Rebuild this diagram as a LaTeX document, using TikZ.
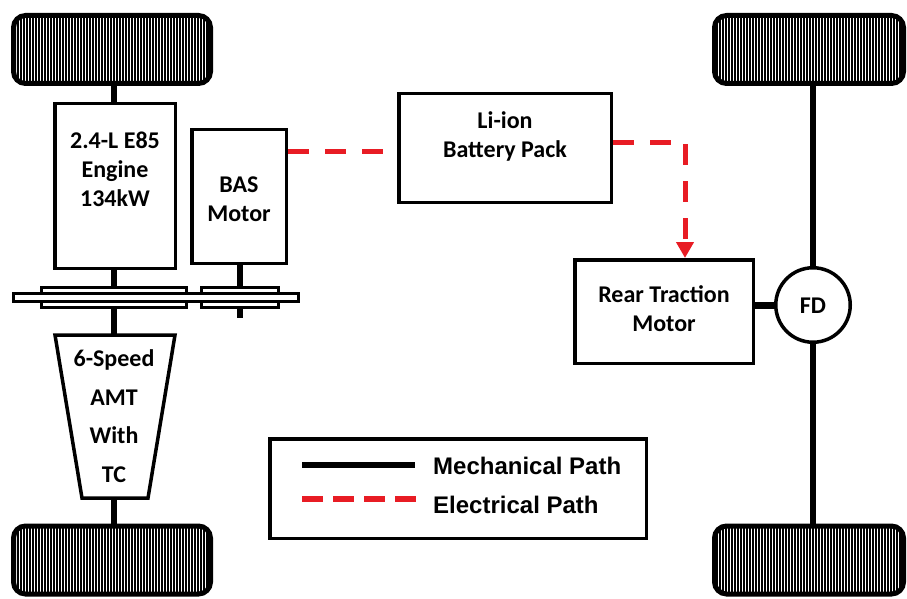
\documentclass[tikz,border=0pt]{standalone}
\usepackage{fontspec}
\setmainfont{Carlito}
\newfontfamily\legendfont{Liberation Sans}
\usetikzlibrary{arrows.meta,patterns.meta}
\definecolor{epath}{RGB}{232,28,36}
\tikzset{
  box/.style={draw,line width=3.5pt,fill=white,inner sep=0pt},
  lbl/.style={inner sep=0pt,font=\fontsize{24}{29}\selectfont\bfseries,align=center},
  shaft/.style={line width=6.5pt},
  gearbox/.style={draw,line width=3pt,fill=white,inner sep=0pt},
  elec/.style={draw=epath,line width=5pt,dash pattern=on 21pt off 16pt},
  wheel/.style={draw,line width=5pt,rounded corners=12pt,inner sep=0pt,minimum height=68pt,
    pattern={Lines[angle=90,distance=3pt,line width=1.8pt]},pattern color=black},
}
\begin{document}
\begin{tikzpicture}[x=1pt,y=-1pt]
\useasboundingbox[fill=white] (0,0) rectangle (907,599);
% wheels
\node[wheel,minimum width=197pt] (wtl) at (112,49.5) {};
\node[wheel,minimum width=197pt] (wbl) at (112,560) {};
\node[wheel,minimum width=189pt] (wtr) at (809,49.5) {};
\node[wheel,minimum width=189pt] (wbr) at (809,560) {};
% engine and BAS motor
\node[box,minimum width=120.5pt,minimum height=164.5pt] (engine) at (115,186) {};
\node[lbl] (etxt) at (115,169) {2.4-L E85\\Engine\\134kW};
\node[box,minimum width=94.5pt,minimum height=133.5pt] (bas) at (239,196.5) {};
\node[lbl] (btxt) at (239,199) {BAS\\Motor};
% gears and bar
\node[gearbox,minimum width=145pt,minimum height=20pt] (egear) at (114,297.5) {};
\node[gearbox,minimum width=77pt,minimum height=20pt] (bgear) at (240,297.5) {};
\node[gearbox,minimum width=285pt,minimum height=8pt] (bar) at (156,297.5) {};
% transmission
\draw[line width=3.5pt,fill=white] (55,335) -- (175,335) -- (148,498) -- (82,498) -- cycle;
\coordinate (ttop) at (114,335);
\coordinate (tbot) at (114,498);
\node[lbl,font=\fontsize{24}{38.5}\selectfont\bfseries] (ttxt) at (114,416) {6-Speed\\AMT\\With\\TC};
% shafts
\coordinate (bend) at (240,318);
\draw[shaft] (engine.north -| 114,0) -- (114,0 |- wtl.south);
\draw[shaft] (114,0 |- engine.south) -- (114,0 |- egear.north);
\draw[shaft] (egear.south) -- (ttop);
\draw[shaft] (tbot) -- (114,0 |- wbl.north);
\draw[shaft] (bgear.north |- bas.south) -- (bgear.north);
\draw[shaft] (bgear.south) -- (bend);
% battery
\node[box,minimum width=212.5pt,minimum height=108.5pt] (batt) at (505,148) {};
\node[lbl] (battxt) at (505,136) {Li-ion\\Battery Pack};
% rear motor and FD
\node[box,minimum width=178.5pt,minimum height=103.5pt] (motor) at (664,311.5) {};
\node[lbl] (mtxt) at (664,309) {Rear Traction\\Motor};
\node[box,circle,minimum size=74.5pt] (fd) at (813,305) {};
\node[lbl] (fdtxt) at (813,306) {FD};
\draw[line width=7pt] (motor.east |- fd.west) -- (fd.west);
\draw[shaft] (fd.north) -- (fd.north |- wtr.south);
\draw[shaft] (fd.south) -- (fd.south |- wbr.north);
% electrical paths
\coordinate (ya) at (0,151);
\coordinate (yb) at (0,142);
\draw[elec] (bas.east |- ya) -- (batt.west |- ya);
\draw[elec,-{Triangle[length=16pt,width=17pt]}] (batt.east |- yb) -| ([xshift=21pt]motor.north);
% legend
\node[box,minimum width=376.5pt,minimum height=99.5pt] (legend) at (458,488.5) {};
\coordinate (la) at (302,465);
\coordinate (lb) at (415,465);
\coordinate (lc) at (302,499);
\coordinate (ld) at (416,499);
\draw[line width=6pt] (la) -- (lb);
\draw[draw=epath,line width=6pt,dash pattern=on 21pt off 10pt] (lc) -- (ld);
\node[anchor=west,inner sep=0pt,font=\legendfont\fontsize{24}{29}\selectfont\bfseries] (lmech) at (433,466) {Mechanical Path};
\node[anchor=west,inner sep=0pt,font=\legendfont\fontsize{24}{29}\selectfont\bfseries] (lelec) at (433,505) {Electrical Path};
\end{tikzpicture}
\end{document}
